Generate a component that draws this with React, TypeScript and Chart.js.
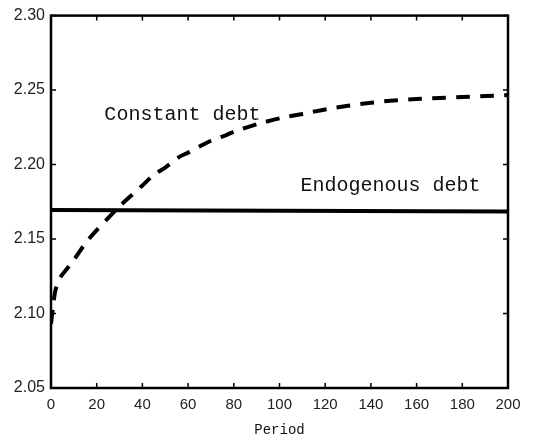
import React, { useEffect, useRef } from "react";
import { Chart, registerables } from "chart.js";

Chart.register(...registerables);

const constantPeriods = [0, 1, 2, 4, 7, 10, 15, 20, 25, 30, 35, 40, 45, 50, 56, 60, 66, 70, 77, 80, 90, 100, 110, 120, 130, 140, 150, 160, 170, 180, 190, 200];
const constantValues = [2.093, 2.106, 2.116, 2.124, 2.13, 2.136, 2.147, 2.156, 2.164, 2.172, 2.179, 2.186, 2.193, 2.198, 2.205, 2.208, 2.213, 2.216, 2.22, 2.222, 2.227, 2.231, 2.234, 2.237, 2.2395, 2.2415, 2.243, 2.244, 2.2447, 2.2453, 2.246, 2.2467];

const endogenousPeriods = [0, 200];
const endogenousValues = [2.1695, 2.1685];

const xTicks = [0, 20, 40, 60, 80, 100, 120, 140, 160, 180, 200];
const yTicks = [2.05, 2.1, 2.15, 2.2, 2.25, 2.3];

const labels = [
  { text: "Constant debt", x: 57.5, y: 2.2333 },
  { text: "Endogenous debt", x: 148.6, y: 2.1855 },
];

export default function App() {
  const ref = useRef<HTMLCanvasElement | null>(null);
  useEffect(() => {
    if (!ref.current) return;
    const framePlugin = {
      id: "frame",
      afterDatasetsDraw(chart: any) {
        const { ctx, chartArea, scales } = chart;
        const xs = scales.x;
        const ys = scales.y;
        ctx.save();
        ctx.strokeStyle = "#000";
        ctx.lineWidth = 1.5;
        ctx.beginPath();
        for (const v of xTicks) {
          const px = xs.getPixelForValue(v);
          ctx.moveTo(px, chartArea.bottom);
          ctx.lineTo(px, chartArea.bottom - 5);
          ctx.moveTo(px, chartArea.top);
          ctx.lineTo(px, chartArea.top + 5);
        }
        for (const v of yTicks) {
          const py = ys.getPixelForValue(v);
          ctx.moveTo(chartArea.left, py);
          ctx.lineTo(chartArea.left + 5, py);
          ctx.moveTo(chartArea.right, py);
          ctx.lineTo(chartArea.right - 5, py);
        }
        ctx.stroke();
        ctx.lineWidth = 2.5;
        ctx.strokeRect(chartArea.left, chartArea.top, chartArea.right - chartArea.left, chartArea.bottom - chartArea.top);
        ctx.fillStyle = "#111";
        ctx.font = "20px 'Liberation Mono', monospace";
        ctx.textAlign = "center";
        ctx.textBaseline = "middle";
        for (const l of labels) {
          ctx.fillText(l.text, xs.getPixelForValue(l.x), ys.getPixelForValue(l.y));
        }
        ctx.restore();
      },
    };
    const chart = new Chart(ref.current, {
      type: "scatter",
      data: {
        datasets: [
          {
            label: "Constant debt",
            data: constantPeriods.map((p, i) => ({ x: p, y: constantValues[i] })),
            showLine: true,
            borderColor: "#000",
            borderWidth: 4,
            borderDash: [14, 10],
            pointRadius: 0,
            tension: 0.3,
            fill: false,
          },
          {
            label: "Endogenous debt",
            data: endogenousPeriods.map((p, i) => ({ x: p, y: endogenousValues[i] })),
            showLine: true,
            borderColor: "#000",
            borderWidth: 4,
            pointRadius: 0,
            fill: false,
          },
        ],
      },
      options: {
        animation: false,
        responsive: false,
        maintainAspectRatio: false,
        layout: { padding: { top: 12, right: 43, left: 0, bottom: 0 } },
        plugins: { legend: { display: false }, tooltip: { enabled: false } },
        scales: {
          x: {
            type: "linear",
            min: 0,
            max: 200,
            afterBuildTicks: (s: any) => { s.ticks = xTicks.map((v) => ({ value: v })); },
            afterFit: (s: any) => { s.height = 51; },
            grid: { display: false, drawTicks: false },
            border: { display: false },
            ticks: { color: "#222", font: { family: "'Liberation Sans', sans-serif", size: 15 }, padding: 8, maxRotation: 0 },
            title: { display: true, text: "Period", color: "#111", font: { family: "'Liberation Mono', monospace", size: 14 }, padding: { top: 2, bottom: 0 } },
          },
          y: {
            type: "linear",
            min: 2.05,
            max: 2.3,
            afterBuildTicks: (s: any) => { s.ticks = yTicks.map((v) => ({ value: v })); },
            afterFit: (s: any) => { s.width = 51; },
            grid: { display: false, drawTicks: false },
            border: { display: false },
            ticks: { color: "#222", font: { family: "'Liberation Sans', sans-serif", size: 16 }, padding: 6, callback: (v: any) => Number(v).toFixed(2) },
          },
        },
      },
      plugins: [framePlugin],
    });
    return () => chart.destroy();
  }, []);
  return (
    <div style={{ position: "fixed", left: 0, top: 0, width: 551, height: 439, background: "#fff" }}>
      <canvas ref={ref} width={551} height={439} style={{ width: 551, height: 439 }} />
    </div>
  );
}
